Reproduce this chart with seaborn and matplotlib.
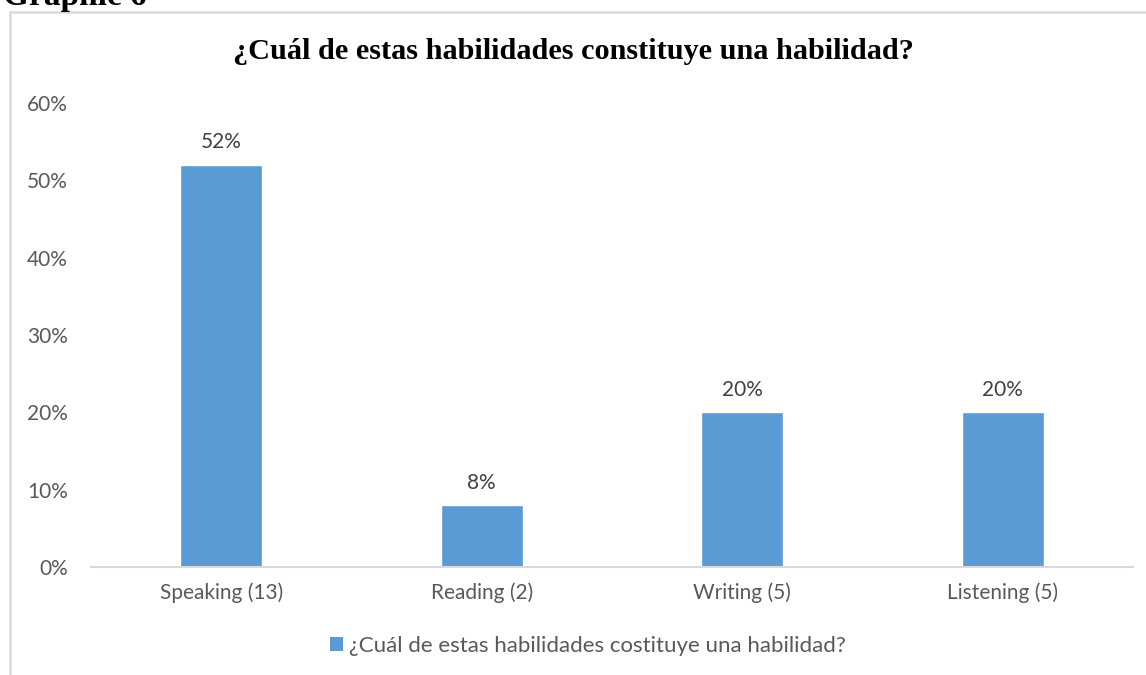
import matplotlib
matplotlib.use("Agg")
import matplotlib.pyplot as plt
from matplotlib.patches import Patch
from matplotlib.lines import Line2D
from matplotlib.ticker import PercentFormatter
import seaborn as sns
import pandas as pd

# Survey answers: skill chosen (with respondent count) and share of responses
categories = ["Speaking (13)", "Reading (2)", "Writing (5)", "Listening (5)"]
shares = [52, 8, 20, 20]
value_labels = ["52%", "8%", "20%", "20%"]
y_ticks = [0, 10, 20, 30, 40, 50, 60]

title = "¿Cuál de estas habilidades constituye una habilidad?"
series_name = "¿Cuál de estas habilidades costituye una habilidad?"
caption = "Graphic 6"

bar_color = "#5b9bd5"
text_gray = "#595959"
label_gray = "#404040"
line_gray = "#d9d9d9"
label_size = 15

sns.set_theme(style="white")
plt.rcParams["font.family"] = ["Lato", "DejaVu Sans"]

df = pd.DataFrame({"skill": categories, "share": shares})

fig = plt.figure(figsize=(11.46, 6.75), dpi=100)
ax = fig.add_axes([0.0794, 0.16, 0.9093, 0.6874])

sns.barplot(data=df, x="skill", y="share", color=bar_color, width=0.315,
            saturation=1, ax=ax)

ax.set_ylim(0, 60)
ax.set_xlim(-0.5, len(categories) - 0.5)
ax.set_yticks(y_ticks)
ax.yaxis.set_major_formatter(PercentFormatter(decimals=0))
ax.set_xlabel("")
ax.set_ylabel("")
ax.tick_params(axis="both", length=0, labelsize=label_size, labelcolor=text_gray)
ax.tick_params(axis="x", pad=11)
ax.tick_params(axis="y", pad=16.5)

for side in ["top", "right", "left"]:
    ax.spines[side].set_visible(False)
ax.spines["bottom"].set_color(line_gray)
ax.spines["bottom"].set_linewidth(1.5)

for container in ax.containers:
    ax.bar_label(container, labels=value_labels, padding=9, fontsize=label_size,
                 color=label_gray)

# Chart title
fig.text(0.5, 0.923, title, ha="center", va="center", fontsize=21.8,
         fontweight="bold", family=["Liberation Serif", "DejaVu Serif"],
         color="black")

# Caption above the chart frame; its upper part runs past the top edge
fig.text(3 / 1146, 1 - 5 / 675, caption, ha="left", va="baseline", fontsize=24,
         fontweight="bold", family=["Liberation Serif", "DejaVu Serif"],
         color="black")

# Chart frame (top and left edges)
x0 = 10 / 1146
y0 = 1 - 12 / 675
fig.add_artist(Line2D([x0, 1.0], [y0, y0], transform=fig.transFigure,
                      color=line_gray, lw=1.8))
fig.add_artist(Line2D([x0, x0], [y0, 0.0], transform=fig.transFigure,
                      color=line_gray, lw=1.8))

handle = Patch(facecolor=bar_color, edgecolor="none")
fig.legend([handle], [series_name], loc="center", bbox_to_anchor=(0.513, 0.043),
           frameon=False, fontsize=16, labelcolor=text_gray,
           handlelength=0.6, handleheight=0.6, handletextpad=0.25)

fig.savefig("out.png", dpi=100)
